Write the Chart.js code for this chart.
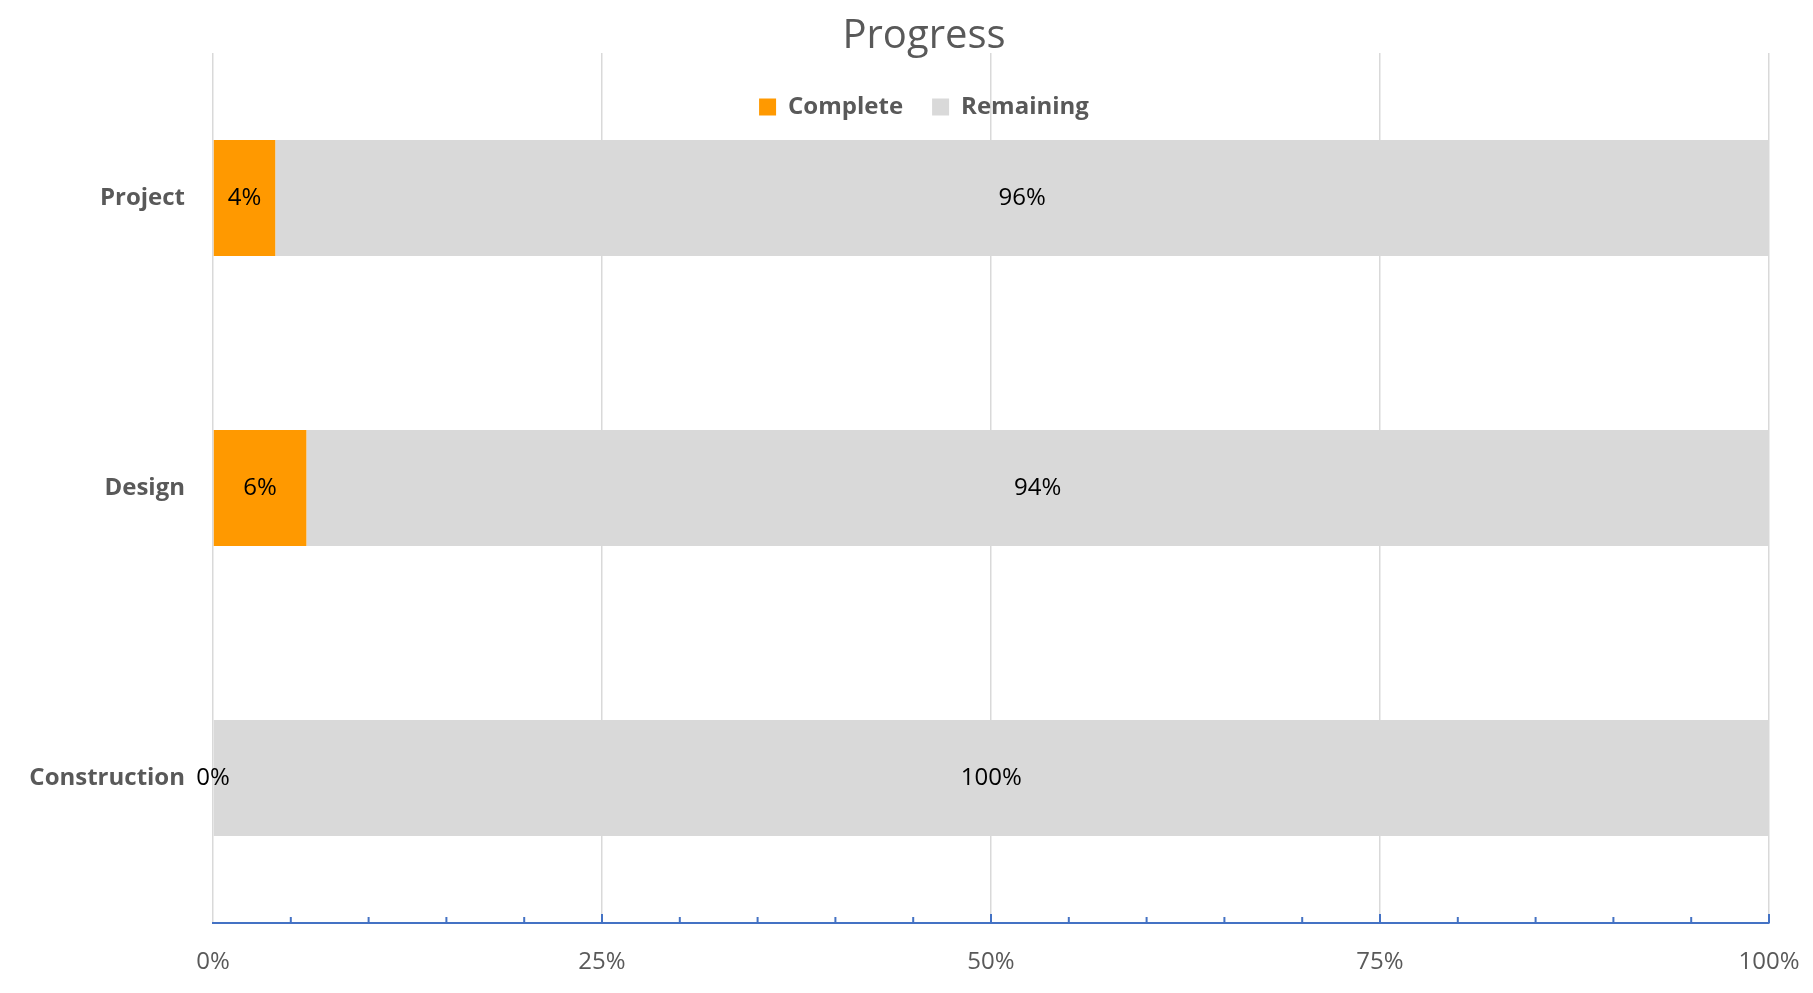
<!DOCTYPE html>
<html>
<head>
<meta charset="utf-8">
<title>Progress</title>
<script src="https://cdn.jsdelivr.net/npm/chart.js@4"></script>
<style>
  html, body { margin: 0; padding: 0; background: #fff; }
  #wrap { width: 1813px; height: 993px; }
</style>
</head>
<body>
<div id="wrap"><canvas id="progressChart"></canvas></div>
<script>
const categories = ['Project', 'Design', 'Construction']
const complete = [4, 6, 0]
const remaining = [96, 94, 100]
const xTicks = [0, 25, 50, 75, 100]

const ORANGE = '#FF9900'
const GREY = '#D9D9D9'
const TEXT = '#595959'
const AXIS_BLUE = '#4472C4'

Chart.defaults.font.family = "'Open Sans', sans-serif"

// Excel puts the legend inside the plot area and centres title + legend a bit right of the canvas centre.
// Legend takes no layout space; after layout both boxes are moved into place.
const headerLayout = {
    id: 'headerLayout',
    beforeLayout(chart) {
        const legend = chart.legend
        if (legend && !legend._overlay) {
            const fit = legend.fit
            legend.fit = function () { fit.call(this); this.height = 0 }
            legend._overlay = true
        }
    },
    afterLayout(chart) {
        const area = chart.chartArea
        const legend = chart.legend
        const title = chart.titleBlock
        ;[legend, title].forEach(box => {
            box.left = area.left - 134
            box.right = area.right
        })
        legend.top = 66
        legend.bottom = legend.top + 60
    }
}

// small blue tick marks pointing up from the axis, every 5%
const axisTicks = {
    id: 'axisTicks',
    afterDraw(chart) {
        const x = chart.scales.x
        const ctx = chart.ctx
        const bottom = chart.chartArea.bottom
        ctx.save()
        ctx.strokeStyle = AXIS_BLUE
        ctx.lineWidth = 2
        for (let v = 5; v <= 100; v += 5) {
            const px = x.getPixelForValue(v)
            const len = v % 25 === 0 ? 9 : 6
            ctx.beginPath()
            ctx.moveTo(px, bottom)
            ctx.lineTo(px, bottom - len)
            ctx.stroke()
        }
        ctx.restore()
    }
}

// value labels centred in each bar segment
const barLabels = {
    id: 'barLabels',
    afterDatasetsDraw(chart) {
        const ctx = chart.ctx
        ctx.save()
        ctx.font = "24px 'Open Sans', sans-serif"
        ctx.fillStyle = '#000'
        ctx.textAlign = 'center'
        ctx.textBaseline = 'middle'
        chart.data.datasets.forEach((ds, i) => {
            chart.getDatasetMeta(i).data.forEach((bar, j) => {
                const cx = (bar.x + bar.base) / 2
                ctx.fillText(ds.data[j] + '%', cx, bar.y)
            })
        })
        ctx.restore()
    }
}

var ctx = document.getElementById('progressChart')
var progressChart = new Chart(ctx, {
    type: 'bar',
    data: {
        labels: categories,
        datasets: [{
            label: 'Complete',
            data: complete,
            backgroundColor: ORANGE,
            borderWidth: 0
        },
        {
            label: 'Remaining',
            data: remaining,
            backgroundColor: GREY,
            borderWidth: 0
        }]
    },
    options: {
        indexAxis: 'y',
        responsive: true,
        maintainAspectRatio: false,
        animation: false,
        layout: {
            padding: { left: 23, right: 44, top: 0, bottom: 10 }
        },
        datasets: {
            bar: { barPercentage: 0.4, categoryPercentage: 1.0 }
        },
        scales: {
            x: {
                stacked: true,
                min: 0,
                max: 100,
                afterBuildTicks: s => { s.ticks = xTicks.map(v => ({ value: v })) },
                afterFit: s => { s.height = 60; s.paddingRight = 0 },
                grid: { color: GREY, lineWidth: 1.5, drawTicks: false },
                border: { color: AXIS_BLUE, width: 2 },
                ticks: {
                    color: TEXT,
                    font: { size: 24 },
                    padding: 25,
                    callback: v => v + '%'
                }
            },
            y: {
                stacked: true,
                afterFit: s => { s.width = 190 },
                grid: { display: false, drawTicks: false },
                border: { display: false },
                ticks: {
                    color: TEXT,
                    font: { size: 24, weight: 'bold' },
                    padding: 28
                }
            }
        },
        plugins: {
            title: {
                display: true,
                text: 'Progress',
                color: TEXT,
                font: { size: 40, weight: 'normal', lineHeight: 0.825 },
                padding: { top: 20, bottom: 0 }
            },
            legend: {
                display: true,
                position: 'top',
                labels: {
                    color: TEXT,
                    font: { size: 24, weight: 'bold' },
                    boxWidth: 17,
                    boxHeight: 17,
                    padding: 29
                }
            },
            tooltip: { enabled: false }
        }
    },
    plugins: [headerLayout, axisTicks, barLabels]
})
</script>
</body>
</html>
